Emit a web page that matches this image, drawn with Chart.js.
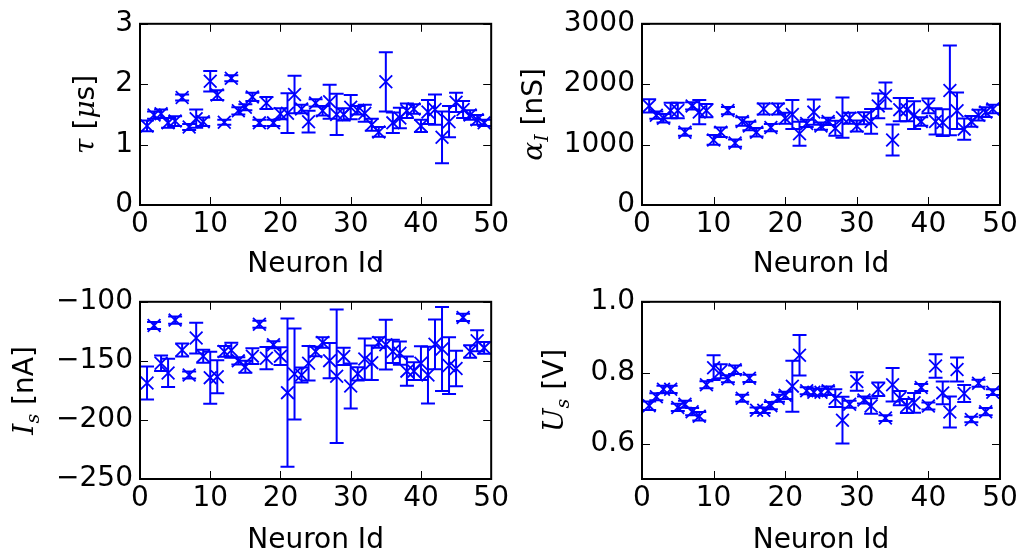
<!DOCTYPE html>
<html>
<head>
<meta charset="utf-8">
<script src="https://cdn.jsdelivr.net/npm/chart.js@4/dist/chart.umd.min.js"></script>
<style>
body { margin: 0; background: #fff; width: 1024px; height: 557px; overflow: hidden; position: relative; }
canvas { position: absolute; }
</style>
</head>
<body>
<canvas id="tau" width="512" height="278" style="left:0;top:0"></canvas>
<canvas id="alpha" width="512" height="278" style="left:512px;top:0"></canvas>
<canvas id="is" width="512" height="279" style="left:0;top:278px"></canvas>
<canvas id="us" width="512" height="279" style="left:512px;top:278px"></canvas>
<script>
// neuron ids shared by all four panels
const neuronIds = [1,2,3,4,5,6,7,8,9,10,11,12,13,14,15,16,17,18,19,20,21,22,23,24,25,
                   26,27,28,29,30,31,32,33,34,35,36,37,38,39,40,41,42,43,44,45,46,47,48,49];

const tauValues = [1.31,1.49,1.51,1.36,1.39,1.78,1.29,1.43,1.38,2.05,1.82,1.37,2.10,1.56,1.62,1.79,1.36,1.69,1.36,1.51,
                   1.52,1.83,1.59,1.38,1.69,1.56,1.71,1.50,1.50,1.62,1.57,1.52,1.33,1.21,2.04,1.36,1.44,1.56,1.59,1.31,
                   1.54,1.58,1.12,1.38,1.70,1.58,1.49,1.41,1.36];
const tauErrors = [0.09,0.06,0.07,0.08,0.08,0.05,0.05,0.15,0.07,0.17,0.08,0.04,0.05,0.06,0.05,0.07,0.05,0.10,0.05,0.09,
                   0.33,0.31,0.07,0.18,0.06,0.08,0.28,0.34,0.10,0.20,0.07,0.14,0.10,0.08,0.49,0.17,0.17,0.12,0.08,0.10,
                   0.20,0.25,0.43,0.26,0.16,0.14,0.08,0.08,0.05];

const alphaValues = [1641,1487,1436,1564,1564,1205,1641,1538,1564,1077,1205,1564,1025,1384,1307,1205,1590,1282,1590,1436,
                     1497,1179,1350,1538,1307,1384,1271,1446,1436,1307,1436,1384,1641,1810,1077,1579,1579,1487,1384,1641,
                     1384,1364,1897,1559,1256,1384,1487,1538,1590];
const alphaErrors = [108,60,70,128,128,60,60,200,110,80,80,60,60,70,70,70,90,60,90,90,
                     240,200,60,210,60,60,125,333,90,90,100,205,205,218,256,192,192,230,70,123,
                     218,220,743,302,175,90,90,80,70];

const isValues = [-168.8,-120,-152,-160.2,-115.5,-140.8,-162,-130.7,-146,-164.2,-163.5,-142,-141,-150,-155,-146,-119,-147.7,-136.3,-146,
                  -176.9,-161.2,-162,-152,-142,-134.4,-149.8,-163,-146.2,-171.3,-161,-148.5,-151.5,-134.5,-136.3,-142,-143.5,-158.7,-158.7,-152,
                  -162,-136,-140,-154,-156.4,-113.2,-142,-133,-139];
const isErrors = [14,3,6.6,12,3,5.5,3,13,5.5,22,14,4.5,6.3,3,5,6.7,3,9.5,3,7.6,
                  62.8,38.5,6.3,14.6,4,4.4,15,56.5,7.2,19,5.7,17.4,14.6,4.4,21,9.8,9.8,12.4,7.6,14.3,
                  24,21,35.5,24,15,3,5.3,8.9,5];

const usValues = [0.707,0.732,0.753,0.753,0.702,0.711,0.690,0.677,0.766,0.814,0.804,0.783,0.808,0.728,0.784,0.694,0.694,0.707,0.728,0.736,
                  0.762,0.849,0.749,0.745,0.745,0.749,0.728,0.666,0.711,0.775,0.723,0.706,0.753,0.672,0.766,0.728,0.706,0.715,0.758,0.706,
                  0.819,0.743,0.689,0.809,0.741,0.668,0.770,0.690,0.745];
const usErrors = [0.012,0.01,0.01,0.01,0.01,0.01,0.01,0.012,0.01,0.035,0.02,0.01,0.012,0.01,0.01,0.008,0.008,0.01,0.01,0.01,
                  0.072,0.057,0.01,0.01,0.01,0.012,0.025,0.066,0.01,0.026,0.01,0.022,0.019,0.008,0.047,0.02,0.02,0.028,0.01,0.01,
                  0.033,0.032,0.044,0.034,0.024,0.008,0.01,0.01,0.008];

const xTicks = [0, 10, 20, 30, 40, 50];
const tauTicks = [0, 1, 2, 3];
const alphaTicks = [0, 1000, 2000, 3000];
const isTicks = [-250, -200, -150, -100];
const usTicks = [0.6, 0.8, 1.0];

const FONT = 'DejaVu Sans';
const BLUE = '#0000ff';

// error bars, frame and inward ticks on all sides
const framePlugin = {
    id: 'frame',
    afterDatasetsDraw(chart) {
        const ctx = chart.ctx;
        const xs = chart.scales.x, ys = chart.scales.y;
        const errs = chart.data.datasets[0].errors;
        ctx.save();
        ctx.strokeStyle = BLUE;
        ctx.lineWidth = 2;
        chart.data.datasets[0].data.forEach((p, i) => {
            const px = xs.getPixelForValue(p.x);
            const y1 = ys.getPixelForValue(p.y - errs[i]);
            const y2 = ys.getPixelForValue(p.y + errs[i]);
            ctx.beginPath();
            ctx.moveTo(px, y1); ctx.lineTo(px, y2);
            ctx.moveTo(px - 7, y1); ctx.lineTo(px + 7, y1);
            ctx.moveTo(px - 7, y2); ctx.lineTo(px + 7, y2);
            ctx.stroke();
        });
        ctx.restore();
    },
    afterDraw(chart) {
        const ctx = chart.ctx, a = chart.chartArea;
        const xs = chart.scales.x, ys = chart.scales.y;
        ctx.save();
        ctx.strokeStyle = '#000';
        ctx.lineWidth = 1;
        ctx.beginPath();
        xs.ticks.forEach(t => {
            const px = Math.round(xs.getPixelForValue(t.value)) + 0.5;
            ctx.moveTo(px, a.bottom); ctx.lineTo(px, a.bottom - 8);
            ctx.moveTo(px, a.top); ctx.lineTo(px, a.top + 8);
        });
        ys.ticks.forEach(t => {
            const py = Math.round(ys.getPixelForValue(t.value)) + 0.5;
            ctx.moveTo(a.left, py); ctx.lineTo(a.left + 8, py);
            ctx.moveTo(a.right, py); ctx.lineTo(a.right - 8, py);
        });
        ctx.stroke();
        ctx.lineWidth = 2;
        ctx.strokeRect(a.left, a.top, a.right - a.left, a.bottom - a.top);
        ctx.restore();
    }
};

// y label with math italics and subscripts
const yLabelPlugin = {
    id: 'yLabel',
    afterDraw(chart, args, opts) {
        const ctx = chart.ctx, a = chart.chartArea;
        ctx.save();
        ctx.translate(opts.x, (a.top + a.bottom) / 2);
        ctx.rotate(-Math.PI / 2);
        let total = 0;
        opts.parts.forEach(p => {
            ctx.font = p.font;
            p.w = ctx.measureText(p.text).width;
            total += p.w;
        });
        let x = -total / 2;
        ctx.fillStyle = '#000';
        ctx.textBaseline = 'alphabetic';
        opts.parts.forEach(p => {
            ctx.font = p.font;
            ctx.fillText(p.text, x, p.dy || 0);
            x += p.w;
        });
        ctx.restore();
    }
};

const MATH = 'italic 28px "DejaVu Serif"';
const SUB = 'italic 19px "DejaVu Serif"';
const TXT = '28px "DejaVu Sans"';

function makeChart(id, values, errors, yMin, yMax, yTicks, fmt, label, g) {
    const pts = neuronIds.map((n, i) => ({ x: n, y: values[i] }));
    return new Chart(document.getElementById(id), {
        type: 'scatter',
        data: {
            datasets: [{
                data: pts,
                errors: errors,
                pointStyle: 'crossRot',
                pointRadius: 9,
                borderColor: BLUE,
                backgroundColor: BLUE,
                borderWidth: 1.8
            }]
        },
        options: {
            responsive: false,
            animation: false,
            events: [],
            layout: { padding: { top: g.top, right: g.right, left: 0, bottom: 0 } },
            plugins: {
                legend: { display: false },
                tooltip: { enabled: false },
                yLabel: label
            },
            scales: {
                x: {
                    type: 'linear', min: 0, max: 50,
                    afterBuildTicks: s => { s.ticks = xTicks.map(v => ({ value: v })); },
                    afterFit: s => { s.height = g.bottom; },
                    grid: { display: false, drawTicks: false },
                    border: { display: false },
                    ticks: { color: '#000', font: { family: FONT, size: 28 }, padding: 3, maxRotation: 0, autoSkip: false },
                    title: { display: true, text: 'Neuron Id', color: '#000', font: { family: FONT, size: 28 }, padding: { top: 0, bottom: g.tb } }
                },
                y: {
                    type: 'linear', min: yMin, max: yMax,
                    afterBuildTicks: s => { s.ticks = yTicks.map(v => ({ value: v })); },
                    afterFit: s => { s.width = g.left; },
                    grid: { display: false, drawTicks: false },
                    border: { display: false },
                    ticks: { color: '#000', font: { family: FONT, size: 28 }, padding: 7, autoSkip: false, callback: fmt }
                }
            }
        },
        plugins: [framePlugin, yLabelPlugin]
    });
}

const minus = v => (v < 0 ? '\u2212' + Math.abs(v) : String(v));

makeChart('tau', tauValues, tauErrors, 0, 3, tauTicks, v => String(v),
    { x: 94, parts: [{ text: '\u03c4', font: MATH }, { text: ' [', font: TXT }, { text: '\u03bc', font: MATH }, { text: 's]', font: TXT }] },
    { left: 140, right: 13, top: 10, bottom: 73, tb: -4 });

makeChart('alpha', alphaValues, alphaErrors, 0, 3000, alphaTicks, v => String(v),
    { x: 30, parts: [{ text: '\u03b1', font: MATH }, { text: 'I', font: SUB, dy: 6 }, { text: ' [nS]', font: TXT }] },
    { left: 130, right: 24, top: 10, bottom: 73, tb: -4 });

makeChart('is', isValues, isErrors, -250, -100, isTicks, minus,
    { x: 33, parts: [{ text: 'I', font: MATH }, { text: 's', font: SUB, dy: 6 }, { text: ' [nA]', font: TXT }] },
    { left: 140, right: 13, top: 5, bottom: 78, tb: -1 });

makeChart('us', usValues, usErrors, 0.5, 1.0, usTicks, v => v.toFixed(1),
    { x: 51, parts: [{ text: 'U', font: MATH }, { text: 's', font: SUB, dy: 6 }, { text: ' [V]', font: TXT }] },
    { left: 130, right: 24, top: 5, bottom: 78, tb: -1 });
</script>
</body>
</html>
